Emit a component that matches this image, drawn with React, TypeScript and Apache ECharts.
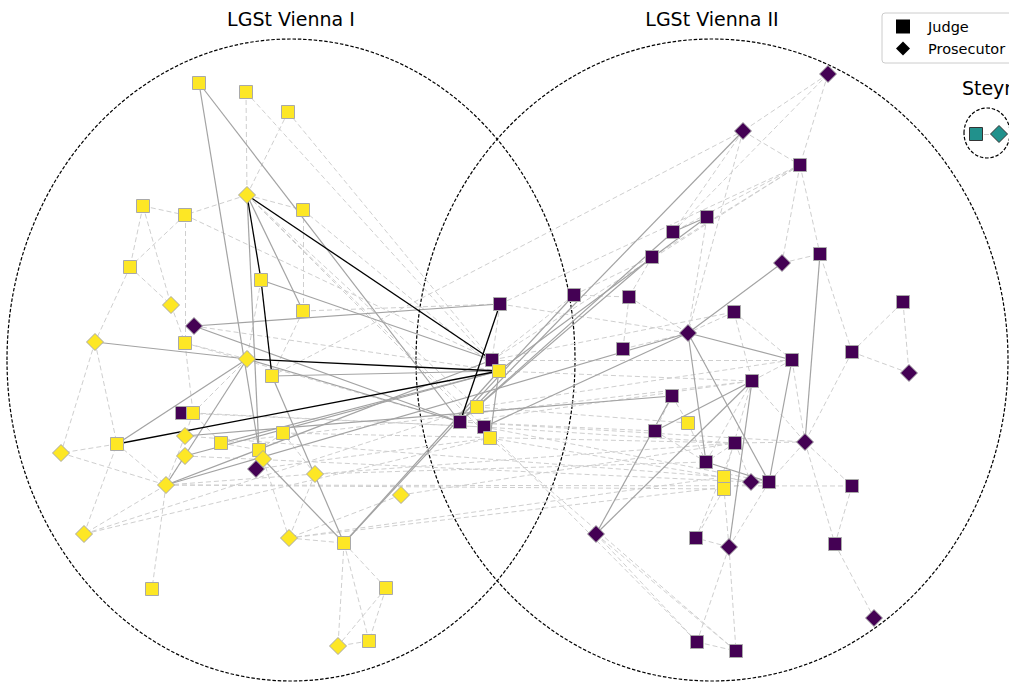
import React, { useEffect, useRef } from 'react';
import * as echarts from 'echarts';

// Courts: name, centre and radii of the grouping ellipse (chart units)
const courtNames = ['LGSt Vienna I', 'LGSt Vienna II', 'Steyr'];
const courtColors = ['#fde725', '#440154', '#21918c'];
const courtCx = [291, 712, 987];
const courtCy = [360, 360, 133];
const courtRx = [284, 296, 23];
const courtRy = [321, 321, 25];

// Nodes: [id, x, y, role (J = judge, P = prosecutor), court index]
const nodes: [string, number, number, string, number][] = [
  ['a1', 199, 83, 'J', 0], ['a2', 246, 92, 'J', 0], ['a3', 288, 112, 'J', 0],
  ['a4', 247, 195, 'P', 0], ['a5', 303, 210, 'J', 0], ['a6', 143, 206, 'J', 0],
  ['a7', 185, 215, 'J', 0], ['a8', 130, 267, 'J', 0], ['a9', 261, 280, 'J', 0],
  ['a10', 171, 305, 'P', 0], ['a11', 303, 311, 'J', 0], ['b1', 194, 326, 'P', 1],
  ['a12', 95, 342, 'P', 0], ['a13', 185, 343, 'J', 0], ['a14', 247, 359, 'P', 0],
  ['a15', 272, 376, 'J', 0], ['b2', 182, 413, 'J', 1], ['a16', 193, 413, 'J', 0],
  ['a17', 185, 436, 'P', 0], ['a18', 283, 433, 'J', 0], ['a19', 117, 444, 'J', 0],
  ['a20', 61, 453, 'P', 0], ['a21', 221, 443, 'J', 0], ['a22', 185, 456, 'P', 0],
  ['a23', 259, 450, 'J', 0], ['a24', 263, 459, 'P', 0], ['b3', 256, 469, 'P', 1],
  ['a25', 315, 474, 'P', 0], ['a26', 166, 485, 'P', 0], ['a27', 84, 534, 'P', 0],
  ['a28', 289, 538, 'P', 0], ['a29', 152, 589, 'J', 0], ['a30', 401, 495, 'P', 0],
  ['a31', 344, 543, 'J', 0], ['a32', 386, 588, 'J', 0], ['a33', 369, 641, 'J', 0],
  ['a34', 338, 646, 'P', 0],
  ['c1', 500, 304, 'J', 1], ['c2', 574, 295, 'J', 1], ['c3', 492, 360, 'J', 1],
  ['c4', 499, 371, 'J', 0], ['c5', 477, 407, 'J', 0], ['c6', 460, 422, 'J', 1],
  ['c7', 484, 427, 'J', 1], ['c8', 490, 438, 'J', 0],
  ['r1', 828, 74, 'P', 1], ['r2', 743, 131, 'P', 1], ['r3', 800, 165, 'J', 1],
  ['r4', 707, 217, 'J', 1], ['r5', 673, 232, 'J', 1], ['r6', 782, 263, 'P', 1],
  ['r7', 820, 254, 'J', 1], ['r8', 652, 257, 'J', 1], ['r9', 629, 297, 'J', 1],
  ['r10', 734, 312, 'J', 1], ['r11', 688, 333, 'P', 1], ['r12', 792, 360, 'J', 1],
  ['r13', 752, 381, 'J', 1], ['r14', 672, 396, 'J', 1], ['r15', 852, 352, 'J', 1],
  ['r16', 903, 302, 'J', 1], ['r17', 909, 373, 'P', 1], ['r18', 805, 442, 'P', 1],
  ['r19', 735, 443, 'J', 1], ['r20', 706, 462, 'J', 1], ['r21', 751, 482, 'P', 1],
  ['r22', 769, 482, 'J', 1], ['r23', 852, 486, 'J', 1], ['r24', 655, 431, 'J', 1],
  ['r25', 623, 349, 'J', 1], ['y36', 688, 423, 'J', 0], ['y37', 724, 477, 'J', 0],
  ['y38', 724, 489, 'J', 0], ['p4', 596, 534, 'P', 1], ['r26', 696, 538, 'J', 1],
  ['r27', 729, 547, 'P', 1], ['r28', 835, 544, 'J', 1], ['r29', 874, 618, 'P', 1],
  ['r30', 697, 642, 'J', 1], ['r31', 736, 651, 'J', 1],
  ['s1', 976, 134, 'J', 2], ['s2', 999, 134, 'P', 2],
];

// Strong ties
const blackEdges: [string, string][] = [
  ['a4', 'c3'], ['a4', 'a9'], ['a9', 'a15'], ['a14', 'c4'], ['a19', 'c4'], ['c1', 'c6'],
];

// Regular ties
const solidEdges: [string, string][] = [
  ['a1', 'c6'], ['a1', 'a23'], ['a4', 'a23'], ['a4', 'a11'], ['a9', 'c3'], ['a12', 'a14'],
  ['b1', 'c1'], ['b1', 'c6'], ['a14', 'a19'], ['a14', 'c6'], ['a15', 'c4'], ['a26', 'c3'],
  ['a22', 'c4'], ['a21', 'c4'], ['a24', 'a31'], ['a15', 'a31'], ['a31', 'c4'], ['a31', 'c2'],
  ['c4', 'c8'], ['c6', 'r2'], ['c4', 'r4'], ['c5', 'r8'], ['c6', 'r5'], ['c7', 'r11'],
  ['a26', 'r11'], ['a17', 'r14'], ['r11', 'r12'], ['r11', 'r20'], ['r11', 'r22'], ['r11', 'r6'],
  ['r7', 'r18'], ['r12', 'r22'], ['r13', 'r24'], ['r13', 'p4'], ['r13', 'r27'], ['r20', 'r22'],
  ['r5', 'r4'], ['p4', 'r14'], ['a26', 'a14'],
];

// Weak ties
const dashedEdges: [string, string][] = [
  ['a2', 'a4'], ['a3', 'a4'], ['a4', 'a5'], ['a4', 'a7'], ['a6', 'a7'], ['a6', 'a8'],
  ['a7', 'a8'], ['a7', 'a13'], ['a6', 'a10'], ['a8', 'a12'], ['a8', 'a10'], ['a10', 'a13'],
  ['a5', 'a11'], ['a12', 'a19'], ['a13', 'a16'], ['a16', 'a17'], ['a19', 'a20'], ['a19', 'a26'],
  ['a26', 'a27'], ['a27', 'a19'], ['a26', 'a29'], ['a26', 'a17'], ['a26', 'a22'], ['a23', 'b3'],
  ['a24', 'b3'], ['a18', 'a25'], ['a25', 'a28'], ['a28', 'a31'], ['a31', 'a32'], ['a31', 'a33'],
  ['a31', 'a34'], ['a32', 'a34'], ['a33', 'a34'], ['a32', 'a33'], ['a21', 'a16'], ['a21', 'a23'],
  ['a18', 'a23'], ['a11', 'a15'], ['a14', 'a16'], ['a14', 'a13'], ['a9', 'a14'], ['a12', 'a20'],
  ['a2', 'c4'], ['a3', 'c3'], ['a7', 'c3'], ['a4', 'c5'], ['a4', 'c7'], ['a4', 'c8'],
  ['a15', 'r2'], ['a5', 'c4'], ['a11', 'c1'], ['a16', 'c7'], ['a13', 'c6'], ['b1', 'c4'],
  ['b2', 'c7'], ['b3', 'c8'], ['a27', 'c8'], ['a27', 'c5'], ['a28', 'y37'], ['a26', 'r23'],
  ['a26', 'r19'], ['a22', 'r21'], ['a17', 'y37'], ['a26', 'y38'], ['a30', 'r19'], ['a28', 'r22'],
  ['a25', 'r20'], ['a21', 'r13'], ['a18', 'r19'], ['a20', 'a26'], ['a24', 'a28'], ['a30', 'a28'],
  ['c2', 'r9'], ['c2', 'r8'], ['c1', 'r11'], ['c3', 'r10'], ['c4', 'r13'], ['c5', 'r12'],
  ['c6', 'r13'], ['c7', 'r19'], ['c7', 'r22'], ['c8', 'r21'], ['c6', 'r24'], ['c5', 'y36'],
  ['c3', 'r12'], ['c6', 'r18'], ['c8', 'r31'], ['c7', 'r30'], ['p4', 'r31'], ['p4', 'r30'],
  ['c1', 'c3'], ['c2', 'c3'], ['c5', 'c6'], ['c7', 'c8'], ['c1', 'r3'], ['c3', 'r3'],
  ['r1', 'r2'], ['r1', 'r3'], ['r1', 'r5'], ['r2', 'r3'], ['r2', 'r11'], ['r2', 'r5'],
  ['r3', 'r6'], ['r3', 'r7'], ['r3', 'r5'], ['r3', 'r8'], ['r6', 'r7'], ['r4', 'r11'],
  ['r8', 'r9'], ['r10', 'r12'], ['r15', 'r16'], ['r16', 'r17'], ['r15', 'r17'], ['r15', 'r18'],
  ['r15', 'r7'], ['r18', 'r22'], ['r18', 'r23'], ['r18', 'r19'], ['r18', 'r13'], ['r18', 'r28'],
  ['r23', 'r28'], ['r28', 'r29'], ['r13', 'r20'], ['r10', 'r11'], ['r19', 'r21'], ['r19', 'r20'],
  ['r27', 'y38'], ['r27', 'r26'], ['r27', 'r22'], ['r27', 'r30'], ['r27', 'r31'], ['r30', 'r31'],
  ['r14', 'y36'], ['r25', 'r11'], ['r25', 'r9'], ['r9', 'r11'], ['r24', 'r20'], ['y36', 'r20'],
  ['r21', 'y37'], ['r21', 'r22'], ['y37', 'r13'], ['y38', 'r26'], ['r26', 'r19'], ['r12', 'r18'],
  ['r14', 'r24'], ['r10', 'r13'], ['r12', 'r13'], ['s1', 's2'],
];

// Legend entries for the two roles
const roleNames = ['Judge', 'Prosecutor'];
const roleSymbols = ['rect', 'diamond'];

const App: React.FC = () => {
  const ref = useRef<HTMLDivElement>(null);

  useEffect(() => {
    if (!ref.current) return;
    const chart = echarts.init(ref.current, undefined, { renderer: 'svg' });

    const pos: Record<string, [number, number]> = {};
    nodes.forEach(([id, x, y]) => { pos[id] = [x, y]; });
    const toLines = (edges: [string, string][]) =>
      edges.filter(([s, t]) => pos[s] && pos[t]).map(([s, t]) => ({ coords: [pos[s], pos[t]] }));

    const nodeData = nodes.map(([id, x, y, role, court]) => ({
      name: id,
      value: [x, y],
      symbol: role === 'J' ? 'rect' : 'diamond',
      symbolSize: role === 'J' ? 13 : 17,
      itemStyle: {
        color: courtColors[court],
        borderColor: court === 2 ? '#333333' : '#a9a9a9',
        borderWidth: 1,
        opacity: 1,
      },
    }));

    const font = 'DejaVu Sans, Verdana, sans-serif';

    chart.setOption({
      animation: false,
      backgroundColor: '#ffffff',
      grid: { left: 0, right: 0, top: 0, bottom: 0 },
      xAxis: { type: 'value', min: 0, max: 1009, show: false },
      yAxis: { type: 'value', min: 0, max: 682, inverse: true, show: false },
      legend: {
        orient: 'vertical',
        left: 882,
        top: 13,
        itemWidth: 14,
        itemHeight: 14,
        itemGap: 7,
        padding: [6, 40, 7, 14],
        backgroundColor: '#ffffff',
        borderColor: '#cccccc',
        borderWidth: 1,
        borderRadius: 3,
        textStyle: { fontFamily: font, fontSize: 14.5, color: '#000000', padding: [0, 0, 0, 13] },
        data: roleNames.map((n, i) => ({ name: n, icon: roleSymbols[i] })),
      },
      series: [
        {
          type: 'custom',
          coordinateSystem: 'cartesian2d',
          silent: true,
          z: 1,
          data: courtNames.map((_, i) => [courtCx[i], courtCy[i], courtRx[i], courtRy[i]]),
          renderItem: (params: any, api: any) => {
            const c = api.coord([api.value(0), api.value(1)]);
            const s = api.size([api.value(2), api.value(3)]);
            const rx = Math.abs(s[0]);
            const ry = Math.abs(s[1]);
            return {
              type: 'group',
              children: [
                {
                  type: 'ellipse',
                  shape: { cx: c[0], cy: c[1], rx, ry },
                  style: { fill: 'none', stroke: '#000000', lineWidth: 1.2, lineDash: [3.5, 1.8] },
                },
                {
                  type: 'text',
                  x: c[0],
                  y: c[1] - ry - 20,
                  style: {
                    text: courtNames[params.dataIndex],
                    align: 'center',
                    verticalAlign: 'middle',
                    fontSize: 19,
                    fontFamily: font,
                    fill: '#000000',
                  },
                },
              ],
            };
          },
        },
        {
          type: 'lines',
          coordinateSystem: 'cartesian2d',
          silent: true,
          z: 2,
          lineStyle: { color: '#cfcfcf', width: 1, type: [5, 3], opacity: 1 },
          data: toLines(dashedEdges),
        },
        {
          type: 'lines',
          coordinateSystem: 'cartesian2d',
          silent: true,
          z: 3,
          lineStyle: { color: '#a3a3a3', width: 1.2, opacity: 1 },
          data: toLines(solidEdges),
        },
        {
          type: 'lines',
          coordinateSystem: 'cartesian2d',
          silent: true,
          z: 4,
          lineStyle: { color: '#000000', width: 1.3, opacity: 1 },
          data: toLines(blackEdges),
        },
        {
          type: 'scatter',
          name: 'nodes',
          z: 5,
          silent: true,
          itemStyle: { opacity: 1 },
          data: nodeData,
        },
        ...roleNames.map((n, i) => ({
          type: 'scatter',
          name: n,
          symbol: roleSymbols[i],
          itemStyle: { color: '#000000', opacity: 1 },
          data: [],
        })),
      ],
    });

    return () => chart.dispose();
  }, []);

  return (
    <div
      ref={ref}
      style={{ position: 'fixed', left: 0, top: 0, width: 1009, height: 682, background: '#fff' }}
    />
  );
};

export default App;
